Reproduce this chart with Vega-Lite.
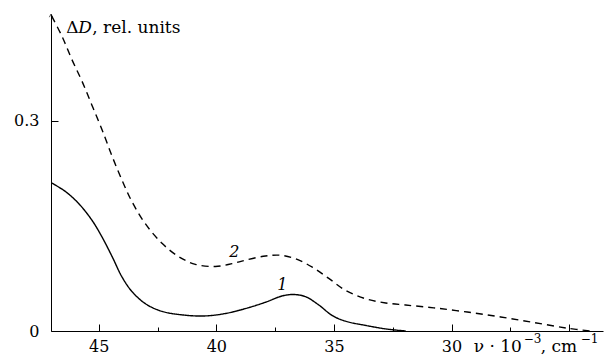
{
  "$schema": "https://vega.github.io/schema/vega-lite/v6.json",
  "width": 552,
  "height": 317,
  "autosize": {"type": "none"},
  "padding": {"left": 51, "top": 14, "right": 6, "bottom": 24},
  "background": "white",
  "config": {
    "view": {"stroke": null},
    "font": "DejaVu Serif",
    "text": {"fontWeight": "normal", "fill": "black", "font": "DejaVu Serif"},
    "axis": {"grid": false, "domainColor": "black", "tickColor": "black", "labelColor": "black", "titleColor": "black", "labelFont": "DejaVu Serif", "titleFont": "DejaVu Serif"}
  },
  "datasets": {
    "spectra": [
      {"series": "1", "nu": 47.0, "dD": 0.211},
      {"series": "1", "nu": 46.42, "dD": 0.199},
      {"series": "1", "nu": 45.86, "dD": 0.182},
      {"series": "1", "nu": 45.29, "dD": 0.158},
      {"series": "1", "nu": 44.86, "dD": 0.134},
      {"series": "1", "nu": 44.43, "dD": 0.106},
      {"series": "1", "nu": 44.01, "dD": 0.077},
      {"series": "1", "nu": 43.58, "dD": 0.056},
      {"series": "1", "nu": 43.02, "dD": 0.039},
      {"series": "1", "nu": 42.31, "dD": 0.028},
      {"series": "1", "nu": 41.31, "dD": 0.0225},
      {"series": "1", "nu": 40.46, "dD": 0.0215},
      {"series": "1", "nu": 39.61, "dD": 0.025},
      {"series": "1", "nu": 38.76, "dD": 0.032},
      {"series": "1", "nu": 37.91, "dD": 0.041},
      {"series": "1", "nu": 37.2, "dD": 0.05},
      {"series": "1", "nu": 36.71, "dD": 0.052},
      {"series": "1", "nu": 36.21, "dD": 0.049},
      {"series": "1", "nu": 35.64, "dD": 0.037},
      {"series": "1", "nu": 35.07, "dD": 0.022},
      {"series": "1", "nu": 34.51, "dD": 0.014},
      {"series": "1", "nu": 33.66, "dD": 0.008},
      {"series": "1", "nu": 32.8, "dD": 0.003},
      {"series": "1", "nu": 31.95, "dD": 0.0},
      {"series": "2", "nu": 47.0, "dD": 0.449},
      {"series": "2", "nu": 46.56, "dD": 0.42},
      {"series": "2", "nu": 46.14, "dD": 0.387},
      {"series": "2", "nu": 45.71, "dD": 0.356},
      {"series": "2", "nu": 45.29, "dD": 0.322},
      {"series": "2", "nu": 44.86, "dD": 0.287},
      {"series": "2", "nu": 44.43, "dD": 0.249},
      {"series": "2", "nu": 44.01, "dD": 0.215},
      {"series": "2", "nu": 43.58, "dD": 0.184},
      {"series": "2", "nu": 43.02, "dD": 0.153},
      {"series": "2", "nu": 42.31, "dD": 0.125},
      {"series": "2", "nu": 41.6, "dD": 0.106},
      {"series": "2", "nu": 40.89, "dD": 0.095},
      {"series": "2", "nu": 40.04, "dD": 0.092},
      {"series": "2", "nu": 39.33, "dD": 0.096},
      {"series": "2", "nu": 38.76, "dD": 0.101},
      {"series": "2", "nu": 37.91, "dD": 0.107},
      {"series": "2", "nu": 37.27, "dD": 0.108},
      {"series": "2", "nu": 36.63, "dD": 0.103},
      {"series": "2", "nu": 35.92, "dD": 0.091},
      {"series": "2", "nu": 35.22, "dD": 0.075},
      {"series": "2", "nu": 34.51, "dD": 0.058},
      {"series": "2", "nu": 33.66, "dD": 0.046},
      {"series": "2", "nu": 32.8, "dD": 0.04},
      {"series": "2", "nu": 31.95, "dD": 0.037},
      {"series": "2", "nu": 30.75, "dD": 0.033},
      {"series": "2", "nu": 29.33, "dD": 0.027},
      {"series": "2", "nu": 27.91, "dD": 0.02},
      {"series": "2", "nu": 26.49, "dD": 0.012},
      {"series": "2", "nu": 25.07, "dD": 0.004},
      {"series": "2", "nu": 24.08, "dD": 0.0}
    ],
    "one": [{}]
  },
  "layer": [
    {
      "data": {"name": "spectra"},
      "mark": {"type": "line", "interpolate": "catmull-rom", "color": "black", "strokeWidth": 1.4},
      "encoding": {
        "x": {
          "field": "nu", "type": "quantitative",
          "scale": {"domain": [23.56, 47.03], "reverse": true, "nice": false, "zero": false},
          "axis": {
            "values": [45, 42.5, 40, 37.5, 35, 32.5, 30, 27.5, 25],
            "labelExpr": "(datum.value % 5 == 0 && datum.value != 25) ? format(datum.value, 'd') : ''",
            "tickSize": {"condition": {"test": "datum.value % 5 == 0", "value": -7}, "value": -4},
            "labelPadding": 14,
            "labelFontSize": 16,
            "title": null
          }
        },
        "y": {
          "field": "dD", "type": "quantitative",
          "scale": {"domain": [0, 0.452], "nice": false},
          "axis": {
            "values": [0, 0.3],
            "labelExpr": "datum.value == 0 ? '0' : format(datum.value, '.1f')",
            "tickSize": -7,
            "labelPadding": 19,
            "labelFontSize": 16,
            "title": null
          }
        },
        "strokeDash": {
          "field": "series", "type": "nominal",
          "scale": {"domain": ["1", "2"], "range": [[1, 0], [7, 5]]},
          "legend": null
        }
      }
    },
    {
      "data": {"name": "one"},
      "mark": {"type": "point", "shape": "M -0.5 1 L 0 0 L 0.5 1", "filled": false, "stroke": "black", "strokeWidth": 1, "size": 40},
      "encoding": {"x": {"datum": 47.03}, "y": {"datum": 0.452}}
    },
    {
      "data": {"name": "one"},
      "mark": {"type": "text", "text": "Δ", "align": "left", "baseline": "alphabetic", "fontSize": 17},
      "encoding": {"x": {"datum": 46.38}, "y": {"datum": 0.4253}}
    },
    {
      "data": {"name": "one"},
      "mark": {"type": "text", "text": "D", "align": "left", "baseline": "alphabetic", "fontSize": 17, "fontStyle": "italic", "dx": 12},
      "encoding": {"x": {"datum": 46.38}, "y": {"datum": 0.4253}}
    },
    {
      "data": {"name": "one"},
      "mark": {"type": "text", "text": ", rel. units", "align": "left", "baseline": "alphabetic", "fontSize": 17, "dx": 26},
      "encoding": {"x": {"datum": 46.38}, "y": {"datum": 0.4253}}
    },
    {
      "data": {"name": "one"},
      "mark": {"type": "text", "text": "ν · 10", "align": "left", "baseline": "alphabetic", "fontSize": 17},
      "encoding": {"x": {"datum": 29.06}, "y": {"datum": -0.0304}}
    },
    {
      "data": {"name": "one"},
      "mark": {"type": "text", "text": "−3", "align": "left", "baseline": "alphabetic", "fontSize": 12, "dx": 50, "dy": -9},
      "encoding": {"x": {"datum": 29.06}, "y": {"datum": -0.0304}}
    },
    {
      "data": {"name": "one"},
      "mark": {"type": "text", "text": ", cm", "align": "left", "baseline": "alphabetic", "fontSize": 17, "dx": 67},
      "encoding": {"x": {"datum": 29.06}, "y": {"datum": -0.0304}}
    },
    {
      "data": {"name": "one"},
      "mark": {"type": "text", "text": "−1", "align": "left", "baseline": "alphabetic", "fontSize": 12, "dx": 107, "dy": -9},
      "encoding": {"x": {"datum": 29.06}, "y": {"datum": -0.0304}}
    },
    {
      "data": {"name": "one"},
      "mark": {"type": "text", "text": "1", "align": "center", "baseline": "middle", "fontSize": 16, "fontStyle": "italic"},
      "encoding": {"x": {"datum": 37.19}, "y": {"datum": 0.065}}
    },
    {
      "data": {"name": "one"},
      "mark": {"type": "text", "text": "2", "align": "center", "baseline": "middle", "fontSize": 16, "fontStyle": "italic"},
      "encoding": {"x": {"datum": 39.23}, "y": {"datum": 0.112}}
    }
  ]
}
